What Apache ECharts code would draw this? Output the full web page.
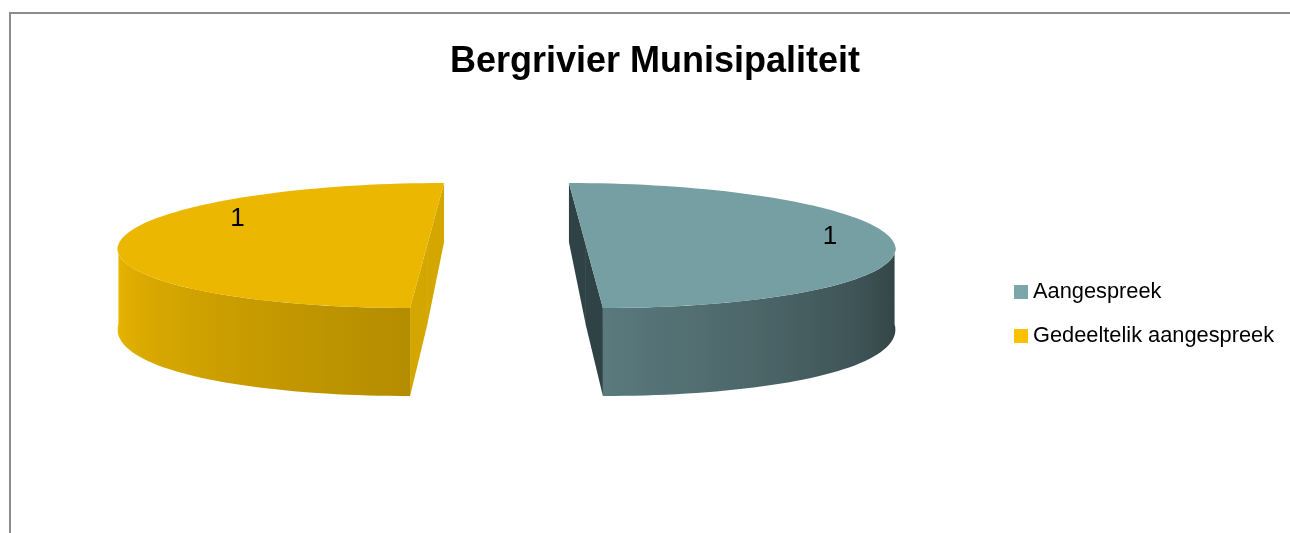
<!DOCTYPE html>
<html>
<head>
<meta charset="utf-8">
<script src="https://cdn.jsdelivr.net/npm/echarts@6/dist/echarts.min.js"></script>
<style>
html, body { margin: 0; padding: 0; background: #fff; overflow: hidden; }
#frame { position: absolute; left: 9px; top: 12px; width: 1300px; height: 540px;
         border-left: 2px solid #8c8c8c; border-top: 2px solid #8c8c8c; }
#main { position: absolute; left: 0; top: 0; width: 1290px; height: 533px; }
</style>
</head>
<body>
<div id="frame"></div>
<div id="main"></div>
<script>
// data
var categories = ['Aangespreek', 'Gedeeltelik aangespreek'];
var values = [1, 1];

// colours
var legendColors = ['#7BA7AB', '#FFC000'];
var topColors = ['#769FA3', '#EBB700'];
var cutColors = ['#2F4346', '#D4A700'];
var labelTurn = [-12, 35]; // label angle shift from slice middle (deg)

// 3d pie layout
var CX = 506.5, CY = 245.5;
var RX = 309, RY = 62.5;
var PERSP = 0.214;
var EXPLODE = 0.257;

var total = values.reduce(function (s, v) { return s + v; }, 0);

function rad(d) { return d * Math.PI / 180; }

// wall height at depth zw (-1 far .. 1 near)
function wallHeight(zw) {
    return 80 + 14.5 * zw - 6.5 * zw * zw;
}

function shade(hex, f) {
    var n = parseInt(hex.slice(1), 16);
    var r = Math.min(255, Math.round(((n >> 16) & 255) * f));
    var g = Math.min(255, Math.round(((n >> 8) & 255) * f));
    var b = Math.min(255, Math.round((n & 255) * f));
    return 'rgb(' + r + ',' + g + ',' + b + ')';
}

// wall lighting: facing right is dark, facing left is bright
function wallLight(deg) {
    var d = ((deg % 360) + 360) % 360;
    if (d <= 180) return Math.max(0.39, 0.39 + (d - 90) / 90 * (0.765 - 0.39));
    return Math.min(1, 0.765 + (d - 180) / 90 * (1.0 - 0.765));
}

function renderSlice(i) {
    return function (params, api) {
        var v = api.value(0);
        var before = 0;
        for (var k = 0; k < i; k++) before += values[k];
        var a0 = 360 * before / total;
        var a1 = a0 + 360 * v / total;
        var mid = (a0 + a1) / 2;
        var ox = EXPLODE * Math.sin(rad(mid));
        var oz = -EXPLODE * Math.cos(rad(mid));

        function pt(deg, r, low) {
            var zw = oz - r * Math.cos(rad(deg));
            var p = 1 + PERSP * zw;
            var x = CX + RX * (ox * p + r * Math.sin(rad(deg)));
            var y = CY + RY * zw + (low ? wallHeight(zw) : 0);
            return [x, y];
        }
        function arc(from, to, r, low) {
            var n = Math.max(2, Math.ceil(Math.abs(to - from) / 2));
            var out = [];
            for (var j = 0; j <= n; j++) out.push(pt(from + (to - from) * j / n, r, low));
            return out;
        }

        var children = [];

        // cut faces
        var camZ = 1 / PERSP;
        [[a0, -1], [a1, 1]].forEach(function (f) {
            var nx = f[1] * Math.cos(rad(f[0])), nz = f[1] * Math.sin(rad(f[0]));
            if ((0 - ox) * nx + (camZ - oz) * nz <= 0) return;
            children.push({
                type: 'polygon',
                shape: { points: [pt(f[0], 0, false), pt(f[0], 1, false), pt(f[0], 1, true), pt(f[0], 0, true)] },
                style: { fill: cutColors[i] }
            });
        });

        // outer wall (front half)
        var lo = Math.max(a0, 89), hi = Math.min(a1, 271);
        if (hi > lo) {
            var top = arc(lo, hi, 1, false);
            var bottom = arc(hi, lo, 1, true);
            var pts = top.concat(bottom);
            var xs = pts.map(function (p) { return p[0]; });
            var minX = Math.min.apply(null, xs), maxX = Math.max.apply(null, xs);
            var stops = top.map(function (p, j) {
                var deg = lo + (hi - lo) * j / (top.length - 1);
                return { offset: (p[0] - minX) / (maxX - minX), color: shade(topColors[i], wallLight(deg)) };
            }).sort(function (a, b) { return a.offset - b.offset; });
            children.push({
                type: 'polygon',
                shape: { points: pts },
                style: { fill: new echarts.graphic.LinearGradient(0, 0, 1, 0, stops) }
            });
        }

        // top face
        children.push({
            type: 'polygon',
            shape: { points: [pt(a0, 0, false)].concat(arc(a0, a1, 1, false)) },
            style: { fill: topColors[i] }
        });

        // value label
        var lp = pt(mid + labelTurn[i], 0.8, false);
        children.push({
            type: 'text',
            x: lp[0] + 5, y: lp[1] + 2,
            style: {
                text: String(v),
                fill: '#000',
                font: '26px "Liberation Sans"',
                align: 'center',
                verticalAlign: 'middle'
            }
        });

        return { type: 'group', children: children };
    };
}

var chart = echarts.init(document.getElementById('main'));

var option = {
    backgroundColor: 'transparent',
    animation: false,
    title: {
        text: 'Bergrivier Munisipaliteit',
        left: 450,
        top: 44,
        padding: 0,
        textStyle: {
            fontFamily: 'Liberation Sans',
            fontWeight: 'bold',
            fontSize: 36,
            color: '#000'
        }
    },
    legend: {
        data: categories,
        orient: 'vertical',
        left: 1014,
        top: 281,
        padding: 0,
        icon: 'rect',
        itemWidth: 14,
        itemHeight: 14,
        itemGap: 22,
        textStyle: {
            fontFamily: 'Liberation Sans',
            fontSize: 21.8,
            lineHeight: 22,
            color: '#000'
        }
    },
    series: categories.map(function (name, i) {
        return {
            type: 'custom',
            name: name,
            coordinateSystem: 'none',
            silent: true,
            itemStyle: { color: legendColors[i] },
            renderItem: renderSlice(i),
            data: [[values[i]]]
        };
    })
};

chart.setOption(option);
</script>
</body>
</html>
